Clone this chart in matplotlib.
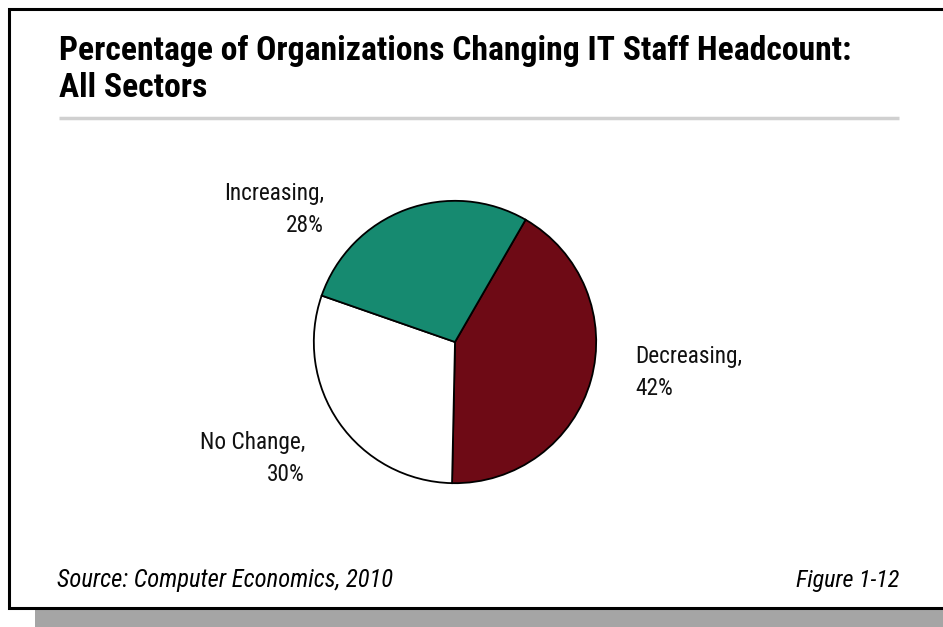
import matplotlib
matplotlib.use("Agg")
import matplotlib.pyplot as plt
from matplotlib import font_manager as fm
from matplotlib.patches import Rectangle

# Data
categories = ["Decreasing", "No Change", "Increasing"]
shares = [42, 30, 28]
colors = ["#6E0A15", "#FFFFFF", "#168A70"]

title_lines = ["Percentage of Organizations Changing IT Staff Headcount:", "All Sectors"]
source_text = "Source: Computer Economics, 2010"
figure_text = "Figure 1-12"

W, H = 943, 627
fig = plt.figure(figsize=(W / 100, H / 100), dpi=100)
fig.patch.set_facecolor("white")

# Pick a narrow sans face if one is installed
installed = {f.name for f in fm.fontManager.ttflist}
if "Liberation Sans Narrow" in installed:
    FONT = dict(family=["Liberation Sans Narrow", "DejaVu Sans"])
elif "Roboto Condensed" in installed:
    FONT = dict(family=["Roboto Condensed", "DejaVu Sans"])
else:
    FONT = dict(family=["DejaVu Sans"], fontstretch="condensed")

renderer = fig.canvas.get_renderer()


def size_for_width(s, width_px, base=14, **kw):
    """Font size at which string s renders width_px pixels wide."""
    probe = fig.text(0, 0, s, fontsize=base, **FONT, **kw)
    w = probe.get_window_extent(renderer).width
    probe.remove()
    return base * width_px / w


# Background layer in pixel coordinates
bg = fig.add_axes([0, 0, 1, 1], zorder=0)
bg.set_xlim(0, W)
bg.set_ylim(H, 0)
bg.axis("off")

# Drop shadow and frame
bg.add_patch(Rectangle((35, 610), W - 35, 40, facecolor="#A5A5A5", edgecolor="none"))
bg.add_patch(Rectangle((9, 9), W + 20, 599, facecolor="white", edgecolor="black", linewidth=2.2))

# Title and rule
fs_title = size_for_width(title_lines[0], 788, base=20, fontweight="bold")
bg.text(59, 60, title_lines[0], fontsize=fs_title, fontweight="bold", **FONT,
        ha="left", va="baseline", color="black")
bg.text(59, 97, title_lines[1], fontsize=fs_title, fontweight="bold", **FONT,
        ha="left", va="baseline", color="black")
bg.plot([59, 899], [118, 118], color="#D0D0D0", linewidth=2.5, solid_capstyle="butt")

# Footer
fs_src = size_for_width(source_text, 338, style="italic")
bg.text(57, 587, source_text, fontsize=fs_src, style="italic", **FONT,
        ha="left", va="baseline", color="black")
fs_fig = size_for_width(figure_text, 104, style="italic")
bg.text(899, 587, figure_text, fontsize=fs_fig, style="italic", **FONT,
        ha="right", va="baseline", color="black")

# Pie
cx, cy, r = 455, 342, 144
pax = fig.add_axes([(cx - r) / W, (H - cy - r) / H, 2 * r / W, 2 * r / H], zorder=1)
pax.pie(shares, colors=colors, startangle=60, counterclock=False,
        wedgeprops=dict(edgecolor="black", linewidth=1.3))
pax.set_xlim(-1.02, 1.02)
pax.set_ylim(-1.02, 1.02)
pax.axis("off")

# Slice labels: anchor x, baseline of first line, alignment
label_pos = {
    "Increasing": (324, 200, "right"),
    "Decreasing": (635, 363, "left"),
    "No Change": (305, 449, "right"),
}
fs_lab = size_for_width("Decreasing,", 108)
for cat, val in zip(categories, shares):
    x, y, ha = label_pos[cat]
    bg.text(x, y, f"{cat},", fontsize=fs_lab, **FONT, ha=ha, va="baseline", color="#111111")
    bg.text(x, y + 32, f"{val}%", fontsize=fs_lab, **FONT, ha=ha, va="baseline", color="#111111")

fig.savefig("out.png", dpi=100, facecolor="white")
